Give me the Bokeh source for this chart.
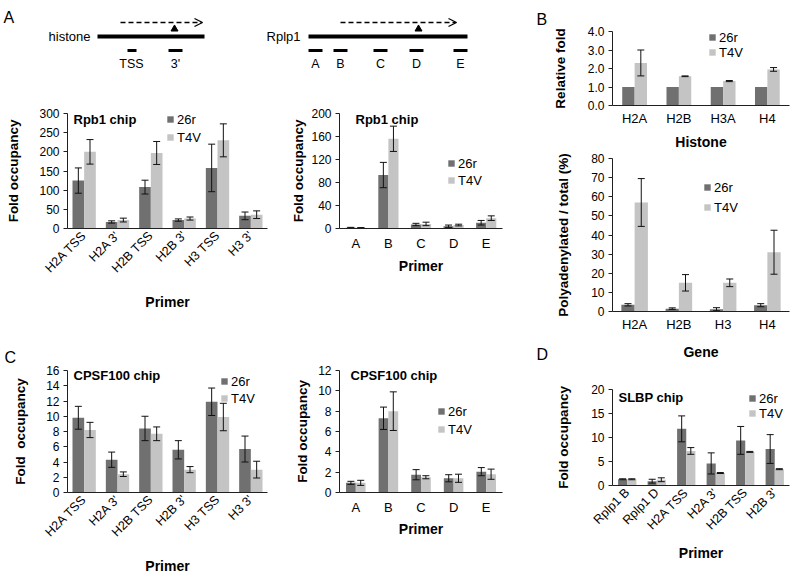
import math
from bokeh.plotting import figure
from bokeh.layouts import row, column
from bokeh.models import (ColumnDataSource, Range1d, FixedTicker, NumeralTickFormatter,
                          Legend, LegendItem, Label, Arrow, OpenHead)
from bokeh.transform import dodge
from bokeh.core.properties import value
from bokeh.embed import file_html
from bokeh.resources import INLINE

# ---------------- data ----------------
series_names = ["26r", "T4V"]
panel_letters = ["A", "B", "C", "D"]

# Panel A schematic
gene_names = ["histone", "Rplp1"]
histone_primers = ["TSS", "3'"]
rplp1_primers = ["A", "B", "C", "D", "E"]

# Panel A left: Rpb1 ChIP on histone genes
hist_primers = ["H2A TSS", "H2A 3'", "H2B TSS", "H2B 3'", "H3 TSS", "H3 3'"]
rpb1_hist_26r = [125, 17, 108, 22, 158, 33]
rpb1_hist_26r_err = [33, 3, 18, 3, 62, 10]
rpb1_hist_t4v = [200, 22, 197, 26, 230, 36]
rpb1_hist_t4v_err = [32, 5, 30, 4, 43, 10]
rpb1_hist_yticks = [0, 50, 100, 150, 200, 250, 300]

# Panel A right: Rpb1 ChIP on Rplp1
rpb1_rplp1_26r = [1.5, 93, 7, 4, 10]
rpb1_rplp1_26r_err = [0.5, 22, 2, 2, 4]
rpb1_rplp1_t4v = [1.2, 156, 8, 6, 18]
rpb1_rplp1_t4v_err = [0.4, 22, 3, 1.5, 4]
rpb1_rplp1_yticks = [0, 40, 80, 120, 160, 200]

# Panel B top: relative fold
histones_b1 = ["H2A", "H2B", "H3A", "H4"]
relfold_26r = [1.0, 1.0, 1.0, 1.0]
relfold_t4v = [2.3, 1.58, 1.32, 1.95]
relfold_t4v_err = [0.7, 0.02, 0.03, 0.1]
relfold_yticks = [0, 1, 2, 3, 4]

# Panel B bottom: polyadenylated / total
genes_b2 = ["H2A", "H2B", "H3", "H4"]
polya_26r = [3.5, 1.5, 1.2, 3.3]
polya_26r_err = [0.6, 0.4, 0.8, 0.8]
polya_t4v = [57, 15, 15, 31]
polya_t4v_err = [12.5, 4.3, 2.0, 11.5]
polya_yticks = [0, 10, 20, 30, 40, 50, 60, 70, 80]

# Panel C left: CPSF100 ChIP on histone genes
cpsf_hist_26r = [9.8, 4.3, 8.4, 5.6, 11.9, 5.7]
cpsf_hist_26r_err = [1.5, 1.0, 1.6, 1.2, 1.8, 1.7]
cpsf_hist_t4v = [8.2, 2.4, 7.7, 3.0, 9.9, 3.0]
cpsf_hist_t4v_err = [1.0, 0.3, 0.9, 0.4, 1.8, 1.1]
cpsf_hist_yticks = [0, 2, 4, 6, 8, 10, 12, 14, 16]

# Panel C right: CPSF100 ChIP on Rplp1
cpsf_rplp1_26r = [0.95, 7.3, 1.75, 1.4, 2.05]
cpsf_rplp1_26r_err = [0.15, 1.1, 0.5, 0.35, 0.4]
cpsf_rplp1_t4v = [0.95, 8.0, 1.5, 1.4, 1.8]
cpsf_rplp1_t4v_err = [0.25, 1.9, 0.15, 0.4, 0.5]
cpsf_rplp1_yticks = [0, 2, 4, 6, 8, 10, 12]

# Panel D: SLBP ChIP
slbp_primers = ["Rplp1 B", "Rplp1 D", "H2A TSS", "H2A 3'", "H2B TSS", "H2B 3'"]
slbp_26r = [1.3, 0.9, 11.8, 4.6, 9.4, 7.6]
slbp_26r_err = [0.1, 0.4, 2.7, 2.2, 2.9, 3.0]
slbp_t4v = [1.3, 1.2, 7.2, 2.6, 7.0, 3.4]
slbp_t4v_err = [0.1, 0.4, 0.7, 0.1, 0.1, 0.1]
slbp_yticks = [0, 5, 10, 15, 20]

# ---------------- style ----------------
FONT = "Liberation Sans"
DARK = "#707070"
LIGHT = "#c4c4c4"
AXIS = "#202020"
TEXT_H = 15  # approx. legend text line height in px


def make_chart(cats, v26, e26, vt4, et4, yticks, W, H, left, right, top, bottom, bw,
               title=None, title_pos=(0, 0), leg_pos=(0, 0), leg_pitch=17,
               ylabel="Fold occupancy", xlabel="Primer", rotate=False,
               ylab_so=10, xlab_so=10, xtick_so=5, yfmt=None):
    fh = H - top - bottom
    p = figure(width=W, height=H, x_range=cats, y_range=Range1d(yticks[0], yticks[-1]),
               output_backend="svg", toolbar_location=None,
               min_border_left=left, min_border_right=right,
               min_border_top=top, min_border_bottom=bottom)
    p.outline_line_color = None
    p.xgrid.visible = False
    p.ygrid.visible = False

    data = dict(cat=cats, v26=v26, vt4=vt4,
                lot4=[v - e for v, e in zip(vt4, et4)],
                hit4=[v + e for v, e in zip(vt4, et4)])
    if e26 is not None:
        data["lo26"] = [v - e for v, e in zip(v26, e26)]
        data["hi26"] = [v + e for v, e in zip(v26, e26)]
    src = ColumnDataSource(data)
    x26 = dodge("cat", -bw / 2, range=p.x_range)
    xt4 = dodge("cat", bw / 2, range=p.x_range)
    r1 = p.vbar(x=x26, top="v26", bottom=0, width=bw, source=src,
                fill_color=DARK, line_color=None)
    r2 = p.vbar(x=xt4, top="vt4", bottom=0, width=bw, source=src,
                fill_color=LIGHT, line_color=None)
    pairs = [(xt4, "lot4", "hit4")]
    if e26 is not None:
        pairs.insert(0, (x26, "lo26", "hi26"))
    for xx, lo, hi in pairs:
        p.segment(x0=xx, y0=lo, x1=xx, y1=hi, source=src, line_color="#111111", line_width=1)
        for yy in (lo, hi):
            p.scatter(x=xx, y=yy, source=src, marker="dash", size=7,
                      line_color="#111111", line_width=1)

    yax = p.yaxis[0]
    yax.ticker = FixedTicker(ticks=yticks)
    if yfmt:
        yax.formatter = NumeralTickFormatter(format=yfmt)
    yax.minor_tick_line_color = None
    yax.major_tick_out = 4
    yax.major_tick_in = 0
    yax.axis_line_color = AXIS
    yax.major_tick_line_color = AXIS
    yax.major_label_text_font = FONT
    yax.major_label_text_font_size = "12px"
    yax.major_label_text_color = "#000000"
    yax.major_label_standoff = 4
    yax.axis_label = ylabel
    yax.axis_label_text_font = FONT
    yax.axis_label_text_font_style = "bold"
    yax.axis_label_text_font_size = "13.5px"
    yax.axis_label_text_color = "#000000"
    yax.axis_label_standoff = int(round(ylab_so))

    xax = p.xaxis[0]
    xax.axis_line_color = AXIS
    xax.major_tick_line_color = None
    xax.major_tick_out = 0
    xax.minor_tick_line_color = None
    xax.major_label_text_font = FONT
    xax.major_label_text_color = "#000000"
    xax.major_label_standoff = int(round(xtick_so))
    if rotate:
        xax.major_label_orientation = math.pi / 4
        xax.major_label_text_font_size = "12.5px"
    else:
        xax.major_label_text_font_size = "13px"
    xax.axis_label = xlabel
    xax.axis_label_text_font = FONT
    xax.axis_label_text_font_style = "bold"
    xax.axis_label_text_font_size = "14px"
    xax.axis_label_text_color = "#000000"
    xax.axis_label_standoff = int(round(xlab_so))

    if title:
        tx, ty = title_pos
        p.add_layout(Label(x=tx, y=fh - ty, x_units="screen", y_units="screen",
                           text=title, text_font=FONT, text_font_style="bold",
                           text_font_size="13px", text_baseline="middle", text_align="left",
                           text_color="#000000"))

    lx, ly = leg_pos
    item_h = max(leg_pitch, TEXT_H)
    vy = fh - (ly - item_h / 2 + 2 * item_h)
    leg = Legend(items=[LegendItem(label=series_names[0], renderers=[r1]),
                        LegendItem(label=series_names[1], renderers=[r2])],
                 location=(lx, vy), glyph_width=8, glyph_height=8,
                 label_height=leg_pitch, spacing=0, padding=0, margin=0,
                 label_standoff=3, border_line_color=None, background_fill_alpha=0,
                 label_text_font=FONT, label_text_font_size="13px",
                 label_text_color="#000000")
    p.add_layout(leg)
    return p


def blank_figure(w, h):
    f = figure(width=w, height=h, x_range=Range1d(0, w), y_range=Range1d(h, 0),
               output_backend="svg", toolbar_location=None,
               x_axis_location=None, y_axis_location=None, min_border=0)
    f.grid.visible = False
    f.outline_line_color = None
    return f


def letter(f, txt, x, y):
    f.text(x=[x], y=[y], text=[txt], text_font=value(FONT), text_font_size="16px",
           text_baseline="top", text_align="left", text_color="#000000")


# ---------------- Panel A schematic ----------------
diag = blank_figure(530, 95)
letter(diag, panel_letters[0], 3, 8)
gene_label_x = [90, 300]
gene_x0 = [97, 308]
gene_x1 = [204, 467]
arrow_x0 = [120, 340]
arrow_x1 = [202, 456]
site_x = [174, 418]
diag.text(x=gene_label_x, y=[36, 36], text=gene_names, text_font=value(FONT),
          text_font_size="13px", text_align="right", text_baseline="middle",
          text_color="#000000")
diag.segment(x0=gene_x0, y0=[36, 36], x1=gene_x1, y1=[36, 36], line_color="#000000",
             line_width=4)
for a0, a1 in zip(arrow_x0, arrow_x1):
    diag.add_layout(Arrow(x_start=a0, y_start=22, x_end=a1, y_end=22, line_dash="5 3",
                          line_width=1.3, line_color="#000000",
                          end=OpenHead(size=8, line_width=1.3, line_color="#000000")))
diag.scatter(x=site_x, y=[28.5, 28.5], marker="triangle", size=7,
             fill_color="#000000", line_color="#000000")
primer_labels = histone_primers + rplp1_primers
primer_x0 = [127, 168, 308, 333, 373, 409, 453]
primer_x1 = [136, 182, 322, 347, 387, 423, 467]
primer_lx = [131, 175, 315, 340, 380, 416, 460]
diag.segment(x0=primer_x0, y0=[50] * 7, x1=primer_x1, y1=[50] * 7, line_color="#000000",
             line_width=3)
diag.text(x=primer_lx, y=[63] * 7, text=primer_labels, text_font=value(FONT),
          text_font_size="12.5px", text_align="center", text_baseline="middle",
          text_color="#000000")

# ---------------- strips with panel letters ----------------
stripC = blank_figure(530, 24)
letter(stripC, panel_letters[2], 4, 8)

letters_right = blank_figure(19, 577)
letter(letters_right, panel_letters[1], 6, 10)
letter(letters_right, panel_letters[3], 6, 345)

# ---------------- charts ----------------
A1 = make_chart(hist_primers, rpb1_hist_26r, rpb1_hist_26r_err, rpb1_hist_t4v,
                rpb1_hist_t4v_err, rpb1_hist_yticks, 285, 245, 67, 18, 18, 112, 0.35,
                title="Rpb1 chip", title_pos=(6, 5.5), leg_pos=(99, 6), leg_pitch=18,
                rotate=True, ylab_so=15, xlab_so=11)
A2 = make_chart(rplp1_primers, rpb1_rplp1_26r, rpb1_rplp1_26r_err, rpb1_rplp1_t4v,
                rpb1_rplp1_t4v_err, rpb1_rplp1_yticks, 245, 245, 54, 28, 18, 112, 0.31,
                title="Rpb1 chip", title_pos=(16, 5.5), leg_pos=(108, 50), leg_pitch=17,
                ylab_so=2, xlab_so=4, xtick_so=7)
C1 = make_chart(hist_primers, cpsf_hist_26r, cpsf_hist_26r_err, cpsf_hist_t4v,
                cpsf_hist_t4v_err, cpsf_hist_yticks, 285, 213, 67, 18, 6, 80, 0.35,
                title="CPSF100 chip", title_pos=(6, 10), leg_pos=(153, 16), leg_pitch=17,
                ylabel="Fold \u00a0occupancy", rotate=True, ylab_so=15, xlab_so=11)
C2 = make_chart(rplp1_primers, cpsf_rplp1_26r, cpsf_rplp1_26r_err, cpsf_rplp1_t4v,
                cpsf_rplp1_t4v_err, cpsf_rplp1_yticks, 245, 213, 54, 28, 6, 80, 0.30,
                title="CPSF100 chip", title_pos=(11, 9.5), leg_pos=(98, 46), leg_pitch=18,
                ylab_so=5, xlab_so=3, xtick_so=7)
B1 = make_chart(histones_b1, relfold_26r, None, relfold_t4v, relfold_t4v_err,
                relfold_yticks, 250, 152, 58, 10, 31, 42, 0.28,
                leg_pos=(96, 11), leg_pitch=15, ylabel="Relative fold",
                xlabel="Histone", ylab_so=17, xlab_so=5, xtick_so=5, yfmt="0.0")
B2 = make_chart(genes_b2, polya_26r, polya_26r_err, polya_t4v, polya_t4v_err,
                polya_yticks, 250, 210, 58, 10, 6, 47, 0.30,
                leg_pos=(91, 33), leg_pitch=20, ylabel="Polyadenylated / total (%)",
                xlabel="Gene", ylab_so=17, xlab_so=9, xtick_so=5)
D1 = make_chart(slbp_primers, slbp_26r, slbp_26r_err, slbp_t4v, slbp_t4v_err,
                slbp_yticks, 250, 215, 58, 10, 27, 92, 0.31,
                title="SLBP chip", title_pos=(6, 8), leg_pos=(136, 9), leg_pitch=14,
                rotate=True, ylab_so=17, xlab_so=5)

layout = row(column(diag, row(A1, A2), stripC, row(C1, C2)),
             row(letters_right, column(B1, B2, D1)))

open("out.html", "w").write(file_html(layout, INLINE, title="ChIP figure"))
